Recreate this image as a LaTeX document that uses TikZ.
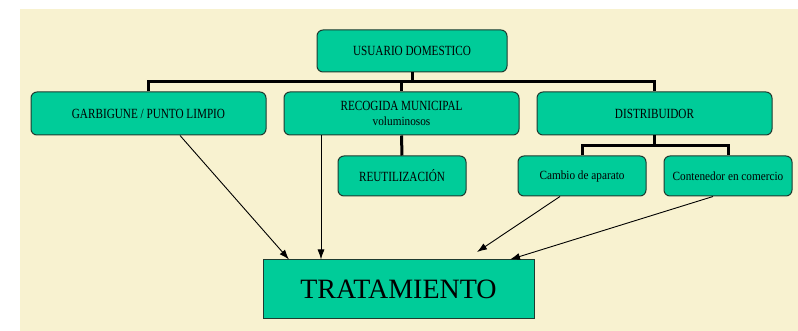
\documentclass[tikz,border=0pt]{standalone}
\usepackage{fontspec}
\setmainfont{Liberation Serif}
\newfontfamily\mayusfam{Liberation Serif}[FakeStretch=0.8]
\newfontfamily\minusfam{Liberation Serif}[FakeStretch=0.9]
\newcommand\letramay{\mayusfam\fontsize{14}{15}\selectfont}
\newcommand\letramin{\minusfam\fontsize{12.5}{15}\selectfont}
\usepackage{tikz}
\usetikzlibrary{shapes,arrows,arrows.meta,positioning}
\usepackage{xcolor}
\definecolor{verde}{HTML}{00CC99}
\definecolor{crema}{HTML}{F8F2D0}
\definecolor{borde}{HTML}{1E3B30}
\tikzstyle{caja}=[draw=borde, fill=verde, rounded corners=6pt, line width=1pt, inner sep=0pt, font=\letramay, align=center]
\tikzstyle{fila}=[caja, minimum width=235pt, minimum height=43pt]
\tikzstyle{hoja}=[caja, minimum width=128pt, minimum height=40pt]
\tikzstyle{final}=[draw=borde, fill=verde, line width=1pt, minimum width=271pt, minimum height=58pt, inner sep=0pt, font=\fontsize{28}{30}\selectfont]
\tikzstyle{rama}=[line width=3pt]
\tikzstyle{flecha}=[-{Latex[length=10pt,width=7pt]}, line width=0.9pt]

\begin{document}
\begin{tikzpicture}[x=1pt,y=-1pt]
        % Fondo
        \useasboundingbox (0,0) rectangle (798,331);
        \fill[crema] (20,9) rectangle (798,331);

        % Usuario
        \node[caja, minimum width=190pt, minimum height=42pt] (usuario) at (412,51) {USUARIO DOMESTICO};

        % Primera fila
        \node[fila] (garbi) at (148.5,113.5) {GARBIGUNE / PUNTO LIMPIO};
        \node[fila] (recog) at (401.5,113.5) {RECOGIDA MUNICIPAL\\\letramin voluminosos};
        \node[fila] (distri) at (654.5,113.5) {DISTRIBUIDOR};

        % Segunda fila
        \node[hoja] (reuti) at (402,176) {REUTILIZACIÓN};
        \node[hoja, font=\letramin] (cambio) at (582,176) {Cambio de aparato};
        \node[hoja, font=\letramin] (conten) at (728,176) {Contenedor en comercio};

        % Tratamiento
        \node[final] (trat) at (398.5,289) {TRATAMIENTO};

        % Ramas
        \draw[rama] (usuario.south) -- ++(0,9) coordinate (bus);
        \draw[rama] (garbi.north) |- (bus) -| (distri.north);
        \draw[rama] (bus -| recog.north) -- (recog.north);
        \draw[rama] (recog.south) -- (reuti.north);
        \draw[rama] (distri.south) -- ++(0,10) coordinate (bus2);
        \draw[rama] (cambio.north) |- (bus2) -| (conten.north);

        % Flechas
        \draw[flecha] ([xshift=31.5pt]garbi.south) -- ([xshift=-109.5pt]trat.north);
        \coordinate (r0) at ([xshift=-80.5pt]recog.south);
        \draw[flecha] (r0) -- (r0 |- trat.north);
        \coordinate (punta) at (477,252);
        \draw[flecha] ([xshift=-22pt]cambio.south) -- (punta);
        \draw[flecha] ([xshift=-15pt]conten.south) -- ([xshift=111.5pt]trat.north);
    \end{tikzpicture}
\end{document}
